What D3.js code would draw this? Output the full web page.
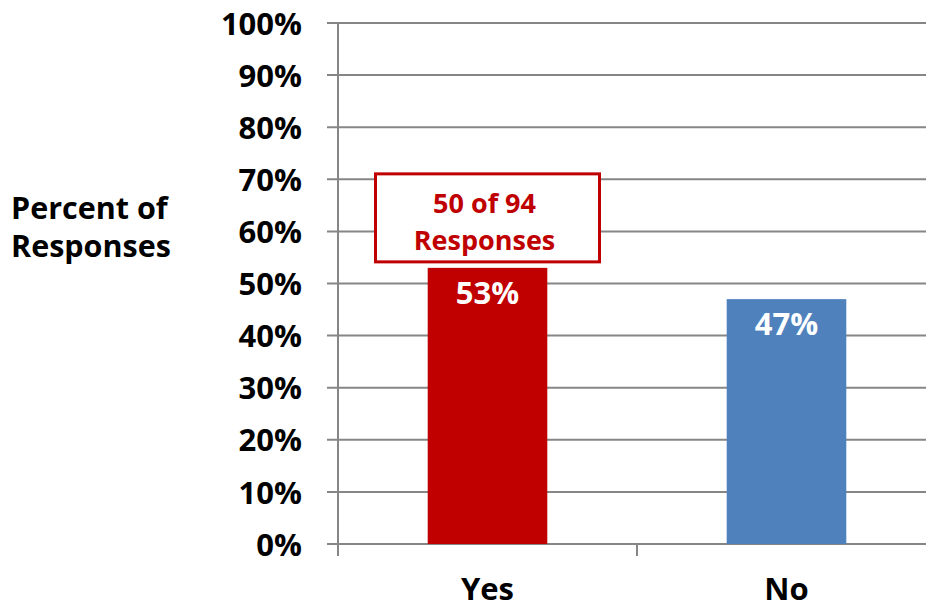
<!DOCTYPE html>
<html>
<head>
<meta charset="utf-8">
<script src="https://cdn.jsdelivr.net/npm/d3@7"></script>
<style>
  body { margin: 0; background: #fff; }
  svg text { font-family: "Open Sans", Carlito, Calibri, sans-serif; font-weight: bold; }
</style>
</head>
<body>
<div id="chart"></div>
<script>
// data
var categories = ["Yes", "No"];
var values = [0.53, 0.47];
var barColours = ["#C00000", "#4F81BD"];
var yTicks = [0, 0.1, 0.2, 0.3, 0.4, 0.5, 0.6, 0.7, 0.8, 0.9, 1.0];
var yTitle = ["Percent of", "Responses"];
var calloutLines = ["50 of 94", "Responses"];

var svgWidth = 926, svgHeight = 608;
var margin = {top: 23, right: -10, bottom: 64, left: 338};
var width = svgWidth - margin.left - margin.right;
var height = svgHeight - margin.top - margin.bottom;

var svg = d3.select("#chart").append("svg")
    .attr("width", svgWidth)
    .attr("height", svgHeight);

var plotArea = svg.append("g")
    .attr("transform", "translate(" + margin.left + "," + margin.top + ")");

var xscale = d3.scaleBand()
    .domain(categories)
    .range([0, width]);

var yscale = d3.scaleLinear()
    .domain([0, 1])
    .range([height, 0]);

var gridCol = "#868686";

// gridlines
plotArea.selectAll(".grid")
    .data(yTicks)
    .enter().append("line")
    .attr("class", "grid")
    .attr("x1", -11)
    .attr("x2", width)
    .attr("y1", d => yscale(d))
    .attr("y2", d => yscale(d))
    .style("stroke", gridCol)
    .style("stroke-width", 2);

// y axis
var yAxis = d3.axisLeft(yscale)
    .tickValues(yTicks)
    .tickFormat(d3.format(".0%"))
    .tickSize(0)
    .tickPadding(36);

var gY = plotArea.append("g").call(yAxis);
gY.select(".domain").remove();
gY.selectAll("text")
    .attr("dy", "0.36em")
    .style("font-size", "31px")
    .attr("fill", "#000");

plotArea.append("line")
    .attr("x1", 0).attr("x2", 0)
    .attr("y1", 0).attr("y2", height + 12)
    .style("stroke", gridCol)
    .style("stroke-width", 2);

// x tick marks at band edges
plotArea.selectAll(".xtick")
    .data(categories)
    .enter().append("line")
    .attr("class", "xtick")
    .attr("x1", d => xscale(d))
    .attr("x2", d => xscale(d))
    .attr("y1", height)
    .attr("y2", height + 12)
    .style("stroke", gridCol)
    .style("stroke-width", 2);

plotArea.selectAll(".xlabel")
    .data(categories)
    .enter().append("text")
    .attr("class", "xlabel")
    .attr("x", d => xscale(d) + xscale.bandwidth() / 2)
    .attr("y", height + 56)
    .attr("text-anchor", "middle")
    .style("font-size", "31px")
    .attr("fill", "#000")
    .text(d => d);

// bars
var barW = xscale.bandwidth() * 0.4;
plotArea.selectAll(".bar")
    .data(values)
    .enter().append("rect")
    .attr("class", "bar")
    .attr("x", (d, i) => xscale(categories[i]) + (xscale.bandwidth() - barW) / 2)
    .attr("width", barW)
    .attr("y", d => yscale(d))
    .attr("height", d => height - yscale(d))
    .style("fill", (d, i) => barColours[i]);

plotArea.selectAll(".barlabel")
    .data(values)
    .enter().append("text")
    .attr("class", "barlabel")
    .attr("x", (d, i) => xscale(categories[i]) + xscale.bandwidth() / 2)
    .attr("y", d => yscale(d) + 36)
    .attr("text-anchor", "middle")
    .style("font-size", "31px")
    .attr("fill", "#fff")
    .text(d => d3.format(".0%")(d));

// callout above Yes bar
var cx = xscale("Yes") + xscale.bandwidth() / 2;
var callout = plotArea.append("g")
    .attr("transform", "translate(" + cx + "," + yscale(values[0]) + ")");
callout.append("rect")
    .attr("x", -112)
    .attr("y", -94)
    .attr("width", 224)
    .attr("height", 88)
    .style("fill", "#fff")
    .style("stroke", "#C00000")
    .style("stroke-width", 3);
callout.selectAll("text")
    .data(calloutLines)
    .enter().append("text")
    .attr("x", -3)
    .attr("y", (d, i) => -55 + i * 37)
    .attr("text-anchor", "middle")
    .style("font-size", "27px")
    .attr("fill", "#C00000")
    .text(d => d);

// y title
svg.selectAll(".ytitle")
    .data(yTitle)
    .enter().append("text")
    .attr("class", "ytitle")
    .attr("x", 11)
    .attr("y", (d, i) => 219 + i * 38)
    .style("font-size", "30.5px")
    .attr("fill", "#000")
    .text(d => d);
</script>
</body>
</html>
